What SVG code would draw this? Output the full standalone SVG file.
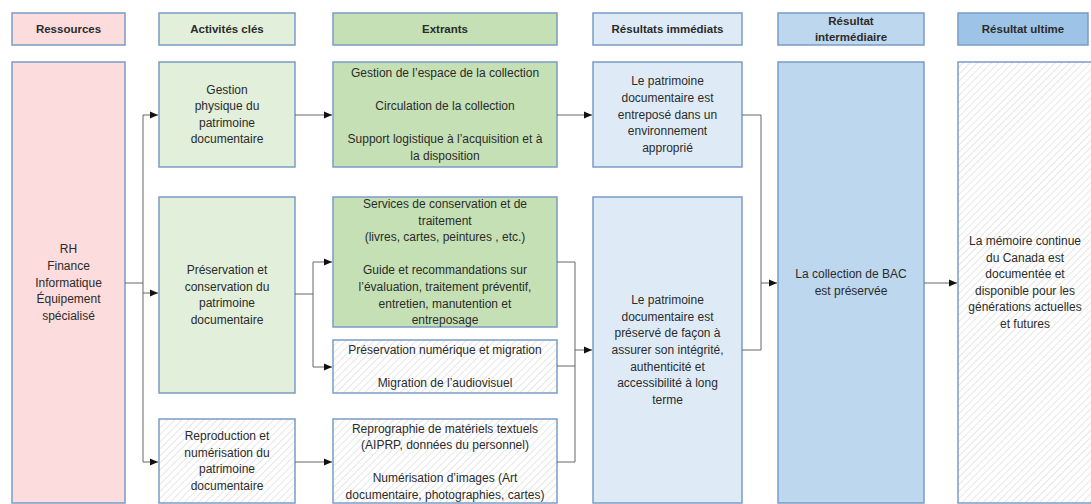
<svg xmlns="http://www.w3.org/2000/svg" width="1091" height="504" viewBox="0 0 1091 504">
<defs>
<pattern id="hatch" width="5" height="5" patternUnits="userSpaceOnUse" patternTransform="rotate(45)">
<rect width="5" height="5" fill="#ffffff"/>
<line x1="0" y1="0" x2="0" y2="5" stroke="#d2d2d2" stroke-width="1.1"/>
</pattern>
<marker id="arr" viewBox="0 0 8 8" refX="8" refY="4" markerWidth="8" markerHeight="8" markerUnits="userSpaceOnUse" orient="auto">
<path d="M0,0.5 L8,4 L0,7.5 Z" fill="#111"/>
</marker>
<style>
.b{stroke:#7a9cc6;stroke-width:1.5}
.res{fill:#fcdcdc}
.act{fill:#e2efda}
.ext{fill:#c5e0b4}
.imm{fill:#deebf7}
.int{fill:#bdd7ee}
.ult{fill:#9dc3e6}
.h{fill:url(#hatch)}
text{font-family:"Liberation Sans",Arial,sans-serif;font-size:12px;fill:#2b2b2b;text-anchor:middle;dominant-baseline:central}
.hd{font-weight:bold;font-size:11.5px}
.c{fill:none;stroke:#666;stroke-width:1}
.ca{fill:none;stroke:#666;stroke-width:1;marker-end:url(#arr)}
</style>
</defs>
<rect width="1091" height="504" fill="#ffffff"/>

<g id="headers">
<g id="h-ressources"><rect class="b res" x="12" y="13" width="113" height="32"/><text class="hd" x="68.5" y="29">Ressources</text></g>
<g id="h-activites"><rect class="b act" x="159" y="13" width="136" height="32"/><text class="hd" x="227" y="29">Activités clés</text></g>
<g id="h-extrants"><rect class="b ext" x="333" y="13" width="224" height="32"/><text class="hd" x="445" y="29">Extrants</text></g>
<g id="h-immediats"><rect class="b imm" x="593" y="13" width="149" height="32"/><text class="hd" x="667.5" y="29">Résultats immédiats</text></g>
<g id="h-intermediaire"><rect class="b int" x="778" y="13" width="146" height="32"/><text class="hd" x="851" y="20.5">Résultat</text><text class="hd" x="851" y="36.5">intermédiaire</text></g>
<g id="h-ultime"><rect class="b ult" x="958" y="13" width="130" height="32"/><text class="hd" x="1023" y="29">Résultat ultime</text></g>
</g>

<g id="n-ressources"><rect class="b res" x="12" y="62" width="113" height="441"/>
<text x="68.5" y="249.2">RH</text><text x="68.5" y="265.8">Finance</text><text x="68.5" y="282.5">Informatique</text><text x="68.5" y="299.1">Équipement</text><text x="68.5" y="315.8">spécialisé</text></g>

<g id="n-gestion"><rect class="b act" x="159" y="62" width="136" height="105"/>
<text x="227" y="89.6">Gestion</text><text x="227" y="106.2">physique du</text><text x="227" y="122.8">patrimoine</text><text x="227" y="139.4">documentaire</text></g>

<g id="n-preservation"><rect class="b act" x="159" y="197" width="136" height="196"/>
<text x="227" y="270.1">Préservation et</text><text x="227" y="286.7">conservation du</text><text x="227" y="303.3">patrimoine</text><text x="227" y="319.9">documentaire</text></g>

<g id="n-reproduction"><rect class="b h" x="159" y="419" width="136" height="84"/>
<text x="227" y="436.1">Reproduction et</text><text x="227" y="452.7">numérisation du</text><text x="227" y="469.3">patrimoine</text><text x="227" y="485.9">documentaire</text></g>

<g id="n-ext1"><rect class="b ext" x="333" y="62" width="224" height="105"/>
<text x="445" y="73">Gestion de l’espace de la collection</text>
<text x="445" y="106.2">Circulation de la collection</text>
<text x="445" y="139.4">Support logistique à l’acquisition et à</text>
<text x="445" y="156">la disposition</text></g>

<g id="n-ext2"><rect class="b ext" x="333" y="197" width="224" height="130"/>
<text x="445" y="204">Services de conservation et de</text>
<text x="445" y="220.6">traitement</text>
<text x="445" y="237.2">(livres, cartes, peintures , etc.)</text>
<text x="445" y="270.4">Guide et recommandations sur</text>
<text x="445" y="287">l’évaluation, traitement préventif,</text>
<text x="445" y="303.6">entretien, manutention et</text>
<text x="445" y="320.2">entreposage</text></g>

<g id="n-ext3"><rect class="b h" x="333" y="340" width="224" height="53"/>
<text x="445" y="350">Préservation numérique et migration</text>
<text x="445" y="383">Migration de l’audiovisuel</text></g>

<g id="n-ext4"><rect class="b h" x="333" y="419" width="224" height="84"/>
<text x="445" y="428.5">Reprographie de matériels textuels</text>
<text x="445" y="445.1">(AIPRP, données du personnel)</text>
<text x="445" y="478.3">Numérisation d’images (Art</text>
<text x="445" y="494.5">documentaire, photographies, cartes)</text></g>

<g id="n-imm1"><rect class="b imm" x="593" y="62" width="149" height="105"/>
<text x="667.5" y="81.3">Le patrimoine</text><text x="667.5" y="97.9">documentaire est</text><text x="667.5" y="114.5">entreposé dans un</text><text x="667.5" y="131.1">environnement</text><text x="667.5" y="147.7">approprié</text></g>

<g id="n-imm2"><rect class="b imm" x="593" y="197" width="149" height="306"/>
<text x="667.5" y="300.2">Le patrimoine</text><text x="667.5" y="316.8">documentaire est</text><text x="667.5" y="333.4">préservé de façon à</text><text x="667.5" y="350">assurer son intégrité,</text><text x="667.5" y="366.6">authenticité et</text><text x="667.5" y="383.2">accessibilité à long</text><text x="667.5" y="399.8">terme</text></g>

<g id="n-int"><rect class="b int" x="778" y="62" width="146" height="441"/>
<text x="851" y="274.2">La collection de BAC</text><text x="851" y="290.8">est préservée</text></g>

<g id="n-ult"><rect class="b h" x="958" y="62" width="140" height="441"/>
<text x="1025" y="241">La mémoire continue</text><text x="1025" y="257.6">du Canada est</text><text x="1025" y="274.2">documentée et</text><text x="1025" y="290.8">disponible pour les</text><text x="1025" y="307.4">générations actuelles</text><text x="1025" y="324">et futures</text></g>

<g id="connectors">
<path class="c" d="M125,283 H143 M143,115 V462"/>
<path class="ca" d="M143,115 H158"/>
<path class="ca" d="M143,293 H158"/>
<path class="ca" d="M143,462 H158"/>
<path class="ca" d="M295,115 H332"/>
<path class="c" d="M295,294 H313 M313,262 V367"/>
<path class="ca" d="M313,262 H332"/>
<path class="ca" d="M313,367 H332"/>
<path class="ca" d="M295,462 H332"/>
<path class="ca" d="M557,115 H592"/>
<path class="c" d="M557,262 H575 V462 H557 M557,366 H575"/>
<path class="ca" d="M575,350 H592"/>
<path class="c" d="M742,115 H761 V350 H742"/>
<path class="ca" d="M761,283 H777"/>
<path class="ca" d="M924,283 H957"/>
</g>
</svg>
